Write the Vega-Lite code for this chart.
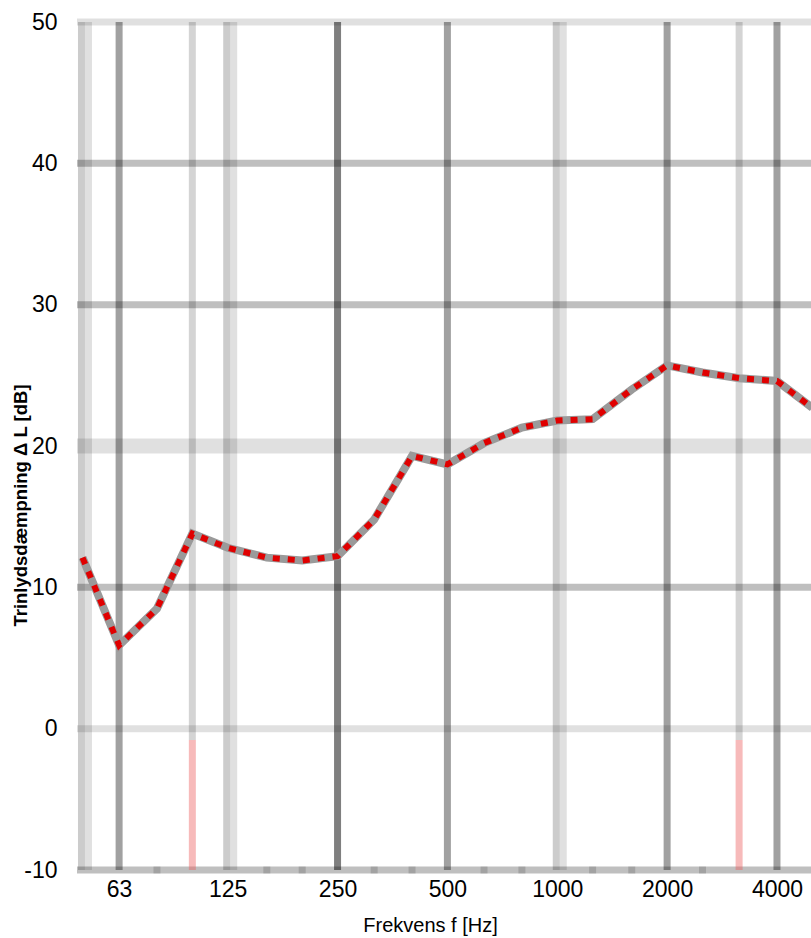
{
  "$schema": "https://vega.github.io/schema/vega-lite/v6.json",
  "width": 734,
  "height": 848,
  "autosize": {"type": "none"},
  "padding": {"left": 77, "top": 22, "right": 0, "bottom": 68},
  "background": "white",
  "config": {"view": {"stroke": null}, "font": "Liberation Sans"},
  "datasets": {
    "curve": [
      {"f": 50, "dL": 12.1},
      {"f": 63, "dL": 5.9},
      {"f": 80, "dL": 8.5},
      {"f": 100, "dL": 13.8},
      {"f": 125, "dL": 12.8},
      {"f": 160, "dL": 12.1},
      {"f": 200, "dL": 11.9},
      {"f": 250, "dL": 12.2},
      {"f": 315, "dL": 14.8},
      {"f": 400, "dL": 19.3},
      {"f": 500, "dL": 18.7},
      {"f": 630, "dL": 20.2},
      {"f": 800, "dL": 21.3},
      {"f": 1000, "dL": 21.8},
      {"f": 1250, "dL": 21.9},
      {"f": 1600, "dL": 24.0},
      {"f": 2000, "dL": 25.7},
      {"f": 2500, "dL": 25.2},
      {"f": 3150, "dL": 24.8},
      {"f": 4000, "dL": 24.6},
      {"f": 5000, "dL": 22.7}
    ]
  },
  "layer": [
    {
      "data": {"values": [{"v": 50}, {"v": 0}]},
      "mark": {"type": "rule", "color": "black", "opacity": 0.12, "strokeWidth": 7},
      "encoding": {"y": {"field": "v", "type": "quantitative", "scale": {"domain": [-10, 50], "nice": false, "zero": false}}}
    },
    {
      "data": {"values": [{"v": 20}]},
      "mark": {"type": "rule", "color": "black", "opacity": 0.12, "strokeWidth": 15},
      "encoding": {"y": {"field": "v", "type": "quantitative"}}
    },
    {
      "data": {"values": [{"v": 40}, {"v": 30}, {"v": 10}, {"v": -10}]},
      "mark": {"type": "rule", "color": "black", "opacity": 0.25, "strokeWidth": 7},
      "encoding": {"y": {"field": "v", "type": "quantitative"}}
    },
    {
      "data": {"values": [{"f": 80}, {"f": 160}, {"f": 200}, {"f": 315}, {"f": 400}, {"f": 630}, {"f": 800}, {"f": 1250}, {"f": 1600}, {"f": 2500}]},
      "mark": {"type": "rule", "color": "black", "opacity": 0.15, "strokeWidth": 7},
      "encoding": {
        "x": {"field": "f", "type": "quantitative", "scale": {"type": "log", "domain": [48.3, 4958], "nice": false}},
        "y": {"datum": -10.25},
        "y2": {"datum": -9.75}
      }
    },
    {
      "data": {"values": [{"f": 50}, {"f": 125}, {"f": 1000}]},
      "mark": {"type": "rule", "color": "black", "opacity": 0.2, "strokeWidth": 7, "xOffset": -1, "clip": true},
      "encoding": {"x": {"field": "f", "type": "quantitative"}}
    },
    {
      "data": {"values": [{"f": 50}, {"f": 125}, {"f": 1000}]},
      "mark": {"type": "rule", "color": "black", "opacity": 0.12, "strokeWidth": 7, "xOffset": 6, "clip": true},
      "encoding": {"x": {"field": "f", "type": "quantitative"}}
    },
    {
      "data": {"values": [{"f": 100, "top": 50, "bottom": -0.8}, {"f": 3150, "top": 50, "bottom": -0.8}]},
      "mark": {"type": "rule", "color": "black", "opacity": 0.17, "strokeWidth": 7},
      "encoding": {
        "x": {"field": "f", "type": "quantitative"},
        "y": {"field": "top", "type": "quantitative"},
        "y2": {"field": "bottom"}
      }
    },
    {
      "data": {"values": [{"f": 63}, {"f": 500}, {"f": 2000}, {"f": 4000}]},
      "mark": {"type": "rule", "color": "black", "opacity": 0.37, "strokeWidth": 7},
      "encoding": {"x": {"field": "f", "type": "quantitative"}}
    },
    {
      "data": {"values": [{"f": 250}]},
      "mark": {"type": "rule", "color": "black", "opacity": 0.5, "strokeWidth": 7},
      "encoding": {"x": {"field": "f", "type": "quantitative"}}
    },
    {
      "data": {"values": [{"f": 100, "top": -0.8, "bottom": -10}, {"f": 3150, "top": -0.8, "bottom": -10}]},
      "mark": {"type": "rule", "color": "#ec5a5a", "opacity": 0.42, "strokeWidth": 7},
      "encoding": {
        "x": {"field": "f", "type": "quantitative"},
        "y": {"field": "top", "type": "quantitative"},
        "y2": {"field": "bottom"}
      }
    },
    {
      "data": {"name": "curve"},
      "mark": {"type": "line", "color": "#9a9a9a", "strokeWidth": 8, "clip": true, "strokeJoin": "miter"},
      "encoding": {
        "x": {"field": "f", "type": "quantitative"},
        "y": {"field": "dL", "type": "quantitative"}
      }
    },
    {
      "data": {"name": "curve"},
      "mark": {"type": "line", "color": "#e00000", "strokeWidth": 6, "clip": true, "strokeDash": [7, 8]},
      "encoding": {
        "x": {
          "field": "f", "type": "quantitative",
          "axis": {
            "values": [63, 125, 250, 500, 1000, 2000, 4000],
            "labelExpr": "datum.value + ''",
            "grid": false, "ticks": false, "domain": false,
            "labelFontSize": 23, "labelColor": "black", "labelPadding": 8,
            "labelFlush": false, "labelOverlap": false,
            "title": "Frekvens f [Hz]", "titleFontSize": 20, "titleFontWeight": "normal",
            "titleColor": "black", "titleX": 353, "titleY": 55, "titleBaseline": "middle", "titleAlign": "center"
          }
        },
        "y": {
          "field": "dL", "type": "quantitative",
          "axis": {
            "values": [-10, 0, 10, 20, 30, 40, 50],
            "labelExpr": "datum.value + ''",
            "grid": false, "ticks": false, "domain": false,
            "labelFontSize": 23, "labelColor": "black", "labelPadding": 20,
            "labelFlush": false, "labelOverlap": false,
            "title": "Trinlydsdæmpning Δ L [dB]", "titleFontSize": 18.5, "titleFontWeight": "bold",
            "titleColor": "black", "titleX": -57, "titleY": 483, "titleAngle": -90,
            "titleBaseline": "middle", "titleAlign": "center"
          }
        }
      }
    }
  ]
}
